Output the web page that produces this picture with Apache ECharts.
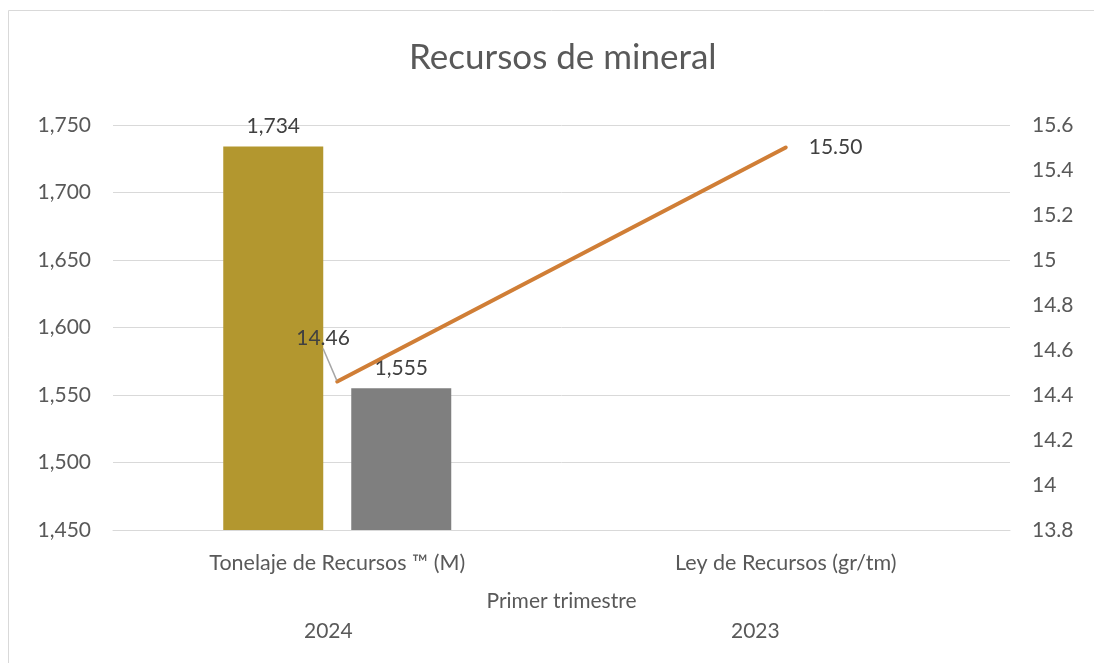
<!DOCTYPE html>
<html>
<head>
<meta charset="utf-8">
<script src="https://cdn.jsdelivr.net/npm/echarts@6/dist/echarts.min.js"></script>
<style>
  html, body { margin: 0; padding: 0; background: #fff; }
  #main { width: 1094px; height: 663px; }
</style>
</head>
<body>
<div id="main"></div>
<script>
// datos
const categories = ['Tonelaje de Recursos \u2122 (M)', 'Ley de Recursos (gr/tm)'];
const tonelaje2024 = [1734, null];
const tonelaje2023 = [1555, null];
const leyRecursos = [14.46, 15.50];
const years = ['2024', '2023'];

const font = 'Lato, "Open Sans", sans-serif';
const chart = echarts.init(document.getElementById('main'));

// solo el primer punto lleva linea guia
const leyData = leyRecursos.map((v, i) => {
  return { value: v, labelLine: { show: i === 0 } };
});

var option = {
  animation: false,
  title: {
    text: 'Recursos de mineral',
    left: 404,
    top: 35,
    textStyle: { fontFamily: font, fontSize: 35, fontWeight: 'normal', color: '#595959' }
  },
  grid: { left: 113, right: 84, top: 125, bottom: 133 },
  graphic: [
    {
      type: 'rect',
      shape: { x: 8.5, y: 10.5, width: 1100, height: 700 },
      style: { fill: 'none', stroke: '#d9d9d9', lineWidth: 1 },
      silent: true
    },
    {
      type: 'text', left: 304, top: 621,
      style: { text: years[0], font: '21px ' + font, fill: '#595959' }
    },
    {
      type: 'text', left: 731, top: 621,
      style: { text: years[1], font: '21px ' + font, fill: '#595959' }
    }
  ],
  xAxis: {
    type: 'category',
    data: categories,
    name: 'Primer trimestre',
    nameLocation: 'middle',
    nameGap: 61,
    nameTextStyle: { fontFamily: font, fontSize: 21, color: '#595959' },
    axisLine: { lineStyle: { color: '#d9d9d9' } },
    axisTick: { show: false },
    axisLabel: { margin: 22, fontFamily: font, fontSize: 21.5, color: '#595959' }
  },
  yAxis: [
    {
      type: 'value',
      min: 1450,
      max: 1750,
      interval: 50,
      axisLine: { show: false },
      axisTick: { show: false },
      splitLine: { lineStyle: { color: '#d9d9d9' } },
      axisLabel: { margin: 22, fontFamily: font, fontSize: 21, color: '#595959' }
    },
    {
      type: 'value',
      min: 13.8,
      max: 15.6,
      interval: 0.2,
      axisLine: { show: false },
      axisTick: { show: false },
      splitLine: { show: false },
      axisLabel: { margin: 22, fontFamily: font, fontSize: 21, color: '#595959' }
    }
  ],
  series: [
    {
      name: '2024',
      type: 'bar',
      data: tonelaje2024,
      barWidth: 100,
      barGap: '28%',
      itemStyle: { color: '#B3972F' },
      label: {
        show: true, position: 'top', distance: 10,
        fontFamily: font, fontSize: 21, color: '#404040',
        formatter: (p) => p.value.toLocaleString('en-US')
      }
    },
    {
      name: '2023',
      type: 'bar',
      data: tonelaje2023,
      barWidth: 100,
      itemStyle: { color: '#7F7F7F' },
      label: {
        show: true, position: 'top', distance: 10,
        fontFamily: font, fontSize: 21, color: '#404040',
        formatter: (p) => p.value.toLocaleString('en-US')
      }
    },
    {
      name: 'Ley',
      type: 'line',
      yAxisIndex: 1,
      data: leyData,
      symbol: 'circle',
      symbolSize: 2,
      itemStyle: { color: '#D07E36' },
      lineStyle: { color: '#D07E36', width: 4, cap: 'round' },
      label: {
        show: true, position: 'right', distance: 22,
        fontFamily: font, fontSize: 21, color: '#404040',
        formatter: (p) => p.value.toFixed(2)
      },
      labelLayout: function (p) {
        if (p.dataIndex === 0) {
          return { x: p.rect.x - 40, y: p.rect.y - 53 };
        }
      },
      labelLine: { lineStyle: { color: '#a6a6a6', width: 1.5 } }
    }
  ]
};

chart.setOption(option);
</script>
</body>
</html>
